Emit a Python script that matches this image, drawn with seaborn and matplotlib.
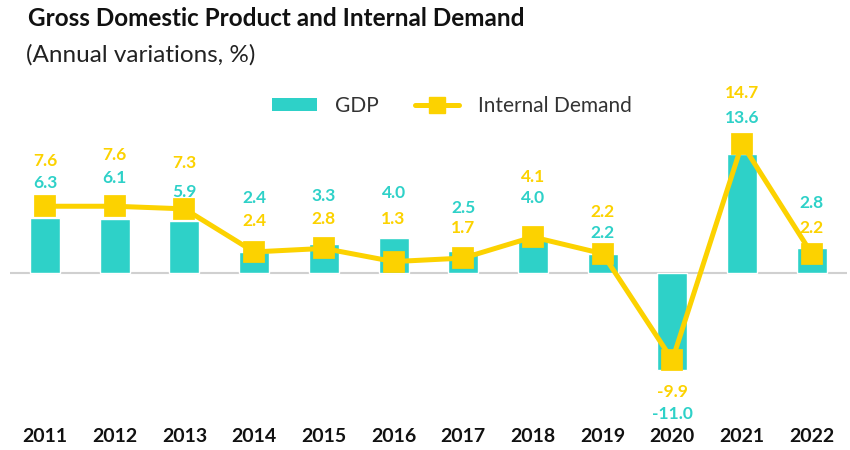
import matplotlib
matplotlib.use("Agg")
import matplotlib.pyplot as plt
from matplotlib.patches import Patch
from matplotlib.lines import Line2D
import seaborn as sns

# ── Datos ─────────────────────────────────────────────────────────────────────

YEARS = ["2011", "2012", "2013", "2014", "2015", "2016",
         "2017", "2018", "2019", "2020", "2021", "2022"]
GDP = [6.3, 6.1, 5.9, 2.4, 3.3, 4.0, 2.5, 4.0, 2.2, -11.0, 13.6, 2.8]
DEMAND = [7.6, 7.6, 7.3, 2.4, 2.8, 1.3, 1.7, 4.1, 2.2, -9.9, 14.7, 2.2]

# posiciones de las etiquetas (a mano, como en el original)
GDP_LABEL_Y = [10.3, 10.8, 9.2, 8.5, 8.75, 9.1, 7.4, 8.5, 4.5, -16.1, 17.6, 8.0]
DEMAND_LABEL_Y = [12.8, 13.4, 12.5, 5.9, 6.1, 6.1, 5.1, 10.9, 6.9, -13.5, 20.5, 5.1]

TEAL = "#2ed1c8"
YELLOW = "#fcd200"
FONT = "Lato"

sns.set_style("white")
plt.rcParams["font.family"] = [FONT, "DejaVu Sans"]

fig = plt.figure(figsize=(8.5, 4.5), dpi=100)
ax = fig.add_axes([0.012, 1 - 425 / 450, 0.984, (425 - 85) / 450])

sns.barplot(x=YEARS, y=GDP, color=TEAL, width=0.43, saturation=1, ax=ax, zorder=2)
sns.pointplot(x=YEARS, y=DEMAND, color=YELLOW, markers="s", linestyles="-",
              markersize=13, linewidth=3.6, ax=ax, zorder=3)

ax.axhline(0, color="#d0d0d0", linewidth=1.5, zorder=1)

for i in range(len(YEARS)):
    ax.text(i, GDP_LABEL_Y[i], f"{GDP[i]:.1f}", color=TEAL, ha="center", va="center",
            fontsize=12.5, fontweight="bold")
    ax.text(i, DEMAND_LABEL_Y[i], f"{DEMAND[i]:.1f}", color=YELLOW, ha="center",
            va="center", fontsize=12.5, fontweight="bold")

ax.set_xlim(-0.5, 11.5)
ax.set_ylim(-17.3, 21.4)
ax.set_yticks([])
ax.set_xlabel("")
ax.set_ylabel("")
ax.tick_params(axis="x", length=0, pad=2, labelsize=14)
for lab in ax.get_xticklabels():
    lab.set_fontweight("bold")
    lab.set_color("#111111")
sns.despine(ax=ax, left=True, bottom=True)

handles = [
    Patch(facecolor=TEAL, edgecolor="none"),
    Line2D([0], [0], color=YELLOW, linewidth=3.6, marker="s", markersize=11),
]
fig.legend(handles, ["GDP", "Internal Demand"], loc="center", ncol=2, frameon=False,
           bbox_to_anchor=(452 / 850, 1 - 106 / 450),
           fontsize=15, handlelength=2.15, handleheight=0.55, columnspacing=1.7,
           handletextpad=0.9, labelcolor="#333333")

fig.text(28 / 850, 1 - 18 / 450, "Gross Domestic Product and Internal Demand",
         fontsize=17.5, fontweight="bold", color="#111111", va="center")
fig.text(26 / 850, 1 - 55 / 450, "(Annual variations, %)",
         fontsize=17.5, color="#222222", va="center")

fig.savefig("out.png", dpi=100, facecolor="white")
